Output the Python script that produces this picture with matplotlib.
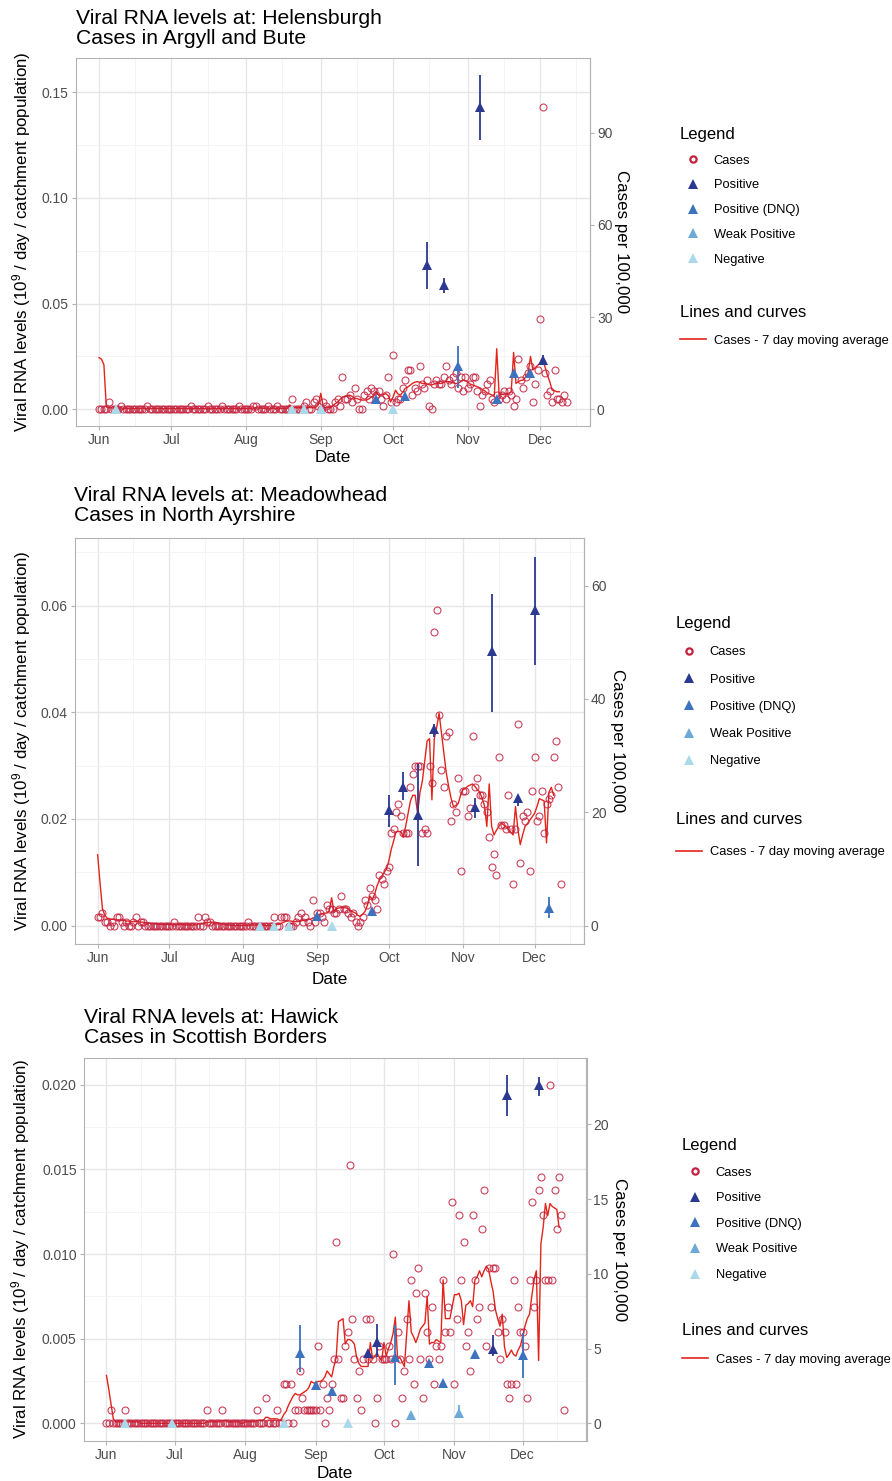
import numpy as np
import pandas as pd
import matplotlib
matplotlib.use("Agg")
import matplotlib.pyplot as plt
from matplotlib.lines import Line2D

plt.rcParams["font.family"] = ["Liberation Sans", "DejaVu Sans"]
plt.rcParams["mathtext.default"] = "regular"

W, H = 892, 1481

STATUS_ORDER = ["Positive", "Positive (DNQ)", "Weak Positive", "Negative"]
STATUS_COL = {"Positive": "#2B3990", "Positive (DNQ)": "#3C72BE",
              "Weak Positive": "#6DA9D6", "Negative": "#A9D9EA"}
CASE_COL = "#C4213E"
AVG_COL = "#E3241B"
TXT = "#4D4D4D"
EDGE = "#B3B3B3"

# ---------------- Helensburgh / Argyll and Bute ----------------
hb_cases = (
    [0, 0, 0, 0, 2.3, 0, 0, 0, 0, 1.2, 0, 0, 0, 0, 0, 0, 0, 0, 0, 0, 1.2, 0, 0, 0, 0, 0, 0, 0, 0, 0]
    + [0, 0, 0, 0, 0, 0, 0, 0, 1.2, 0, 0, 0, 0, 0, 0, 1.2, 0, 0, 0, 0, 0, 1.2, 0, 0, 0, 0, 0, 0, 1.2, 0, 0]
    + [0, 0, 0, 1.2, 1.2, 0, 0, 0, 0, 1.2, 0, 0, 0, 1.2, 0, 0, 0, 0, 0, 3.5, 0, 0, 0, 0, 1.2, 2.3, 0, 0, 2.3, 3.5, 1.2]
    + [0, 2.3, 1.2, 0, 0, 0, 2.3, 3.5, 1.2, 10.5, 3.5, 3.5, 4.7, 2.3, 7.0, 3.5, 0, 0, 4.7, 5.9, 3.5, 7.0, 5.9, 4.7, 5.9, 3.5, 1.2, 4.7, 10.5, 2.3]
    + [17.6, 2.3, 3.5, 3.5, 7.0, 9.4, 12.9, 12.9, 4.7, 7.0, 5.9, 14.0, 8.2, 7.0, 9.4, 1.2, 0, 8.2, 9.4, 8.2, 8.2, 10.5, 14.0, 9.4, 8.2, 10.5, 11.7, 7.0, 10.5, 5.9, 10.5]
    + [7.0, 8.2, 10.5, 10.5, 5.9, 1.2, 4.7, 5.9, 8.2, 9.4, 3.5, 2.3, 4.7, 3.5, 4.7, 5.9, 3.5, 5.9, 4.7, 1.2, 3.5, 16.4, 9.4, 7.0, 10.5, 11.7, 14.0, 2.3, 8.2, 12.9]
    + [29.3, 98.5, 11.7, 4.7, 5.9, 2.3, 12.9, 3.5, 3.5, 2.3, 4.7, 2.3]
)
hb_avg = (
    [16.8, 16.3, 14.5, 0.8, 0.5, 0.5, 0.4, 0.4, 0.4, 0.5, 0.3, 0.3, 0.2, 0.2, 0.2, 0.2, 0.2, 0.2, 0.3, 0.3, 0.3, 0.3, 0.2, 0.2, 0.2, 0.2, 0.2, 0.2, 0.2, 0.2]
    + [0.2, 0.2, 0.2, 0.2, 0.2, 0.2, 0.2, 0.2, 0.3, 0.3, 0.3, 0.2, 0.2, 0.2, 0.2, 0.3, 0.3, 0.2, 0.2, 0.2, 0.2, 0.3, 0.3, 0.3, 0.2, 0.2, 0.2, 0.2, 0.3, 0.3, 0.2]
    + [0.2, 0.2, 0.3, 0.4, 0.5, 0.4, 0.4, 0.3, 0.3, 0.4, 0.3, 0.3, 0.3, 0.4, 0.3, 0.3, 0.2, 0.2, 1.4, 1.0, 0.6, 0.5, 0.5, 0.5, 0.5, 0.6, 0.6, 0.5, 0.5, 0.7, 1.5]
    + [5.2, 1.0, 0.5, 0.5, 0.6, 1.2, 1.8, 2.4, 3.2, 4.0, 4.2, 4.5, 4.6, 4.2, 3.5, 3.5, 3.2, 3.0, 3.0, 3.0, 3.4, 4.0, 4.4, 5.7, 4.6, 4.6, 4.8, 5.1, 4.4, 2.4]
    + [4.0, 6.2, 5.0, 4.6, 5.5, 6.8, 7.2, 7.8, 8.4, 8.8, 9.0, 8.8, 8.4, 8.4, 8.2, 8.0, 7.9, 8.2, 8.6, 8.4, 8.4, 8.8, 9.0, 9.0, 8.8, 8.6, 8.4, 8.4, 9.0, 9.5, 9.3]
    + [8.8, 8.2, 7.9, 7.6, 7.3, 7.0, 6.4, 6.0, 5.3, 5.0, 4.6, 4.6, 19.7, 4.6, 4.8, 5.0, 5.0, 5.1, 5.7, 18.5, 8.4, 9.0, 9.4, 9.5, 10.5, 11.7, 17.2, 12.8, 13.5, 14.3]
    + [15.0, 16.5, 13.9, 11.2, 9.0, 6.2, 6.0, 5.7, 5.7]
)
hb_dates = ["2020-06-08", "2020-08-20", "2020-08-25", "2020-09-01", "2020-09-24",
            "2020-10-01", "2020-10-06", "2020-10-15", "2020-10-22", "2020-10-28",
            "2020-11-06", "2020-11-13", "2020-11-20", "2020-11-27", "2020-12-02"]
hb_status = ["Negative", "Negative", "Negative", "Negative", "Positive (DNQ)",
             "Negative", "Positive (DNQ)", "Positive", "Positive", "Positive (DNQ)",
             "Positive", "Positive (DNQ)", "Positive (DNQ)", "Positive (DNQ)", "Positive"]
hb_level = [0, 0, 0, 0, 0.0050, 0, 0.0062, 0.0685, 0.0587, 0.0205, 0.1432, 0.0048, 0.0172, 0.0172, 0.0235]
hb_lo = [0, 0, 0, 0, 0.0050, 0, 0.0062, 0.0571, 0.0548, 0.0101, 0.1275, 0.0048, 0.0172, 0.0172, 0.0215]
hb_hi = [0, 0, 0, 0, 0.0050, 0, 0.0062, 0.0791, 0.0619, 0.0299, 0.1583, 0.0048, 0.0172, 0.0172, 0.0255]

# ---------------- Meadowhead / North Ayrshire ----------------
mh_cases = (
    [1.5, 1.5, 2.2, 0.7, 0.7, 0.0, 0.7, 0.0, 1.5, 1.5, 0.7, 0.0, 0.7, 0.0, 0.0, 0.7, 1.5, 0.0, 0.7, 0.7, 0.0, 0.0, 0.0, 0.0, 0.0, 0.0, 0.0, 0.0, 0.0, 0.0]
    + [0.0, 0.0, 0.7, 0.0, 0.0, 0.0, 0.0, 0.0, 0.0, 0.0, 0.0, 0.0, 1.5, 0.0, 0.0, 1.5, 0.7, 0.7, 0.0, 0.0, 0.0, 0.0, 0.0, 0.0, 0.0, 0.0, 0.0, 0.0, 0.0, 0.0, 0.0]
    + [0.0, 0.0, 0.7, 0.0, 0.0, 0.0, 0.0, 0.0, 0.0, 0.0, 0.0, 0.0, 0.0, 1.5, 0.0, 0.0, 1.5, 1.5, 1.5, 0.0, 0.0, 0.0, 0.7, 1.5, 2.2, 0.7, 1.5, 0.7, 0.0, 4.5, 0.7]
    + [2.2, 2.2, 1.5, 0.7, 3.7, 3.0, 3.0, 2.2, 2.2, 3.0, 5.2, 3.0, 3.0, 2.2, 1.5, 2.2, 0.7, 0.0, 0.7, 1.5, 4.5, 3.7, 6.7, 5.2, 4.5, 3.0, 8.9, 8.2, 7.4, 9.6]
    + [10.4, 16.3, 17.1, 20.0, 21.5, 19.3, 16.3, 16.3, 16.3, 24.5, 26.7, 28.2, 28.2, 28.2, 16.3, 17.1, 16.3, 28.2, 25.2, 51.9, 55.7, 37.1, 27.4, 24.5, 33.4, 34.1, 18.5, 21.5, 20.0, 26.0, 9.6]
    + [23.7, 23.7, 19.3, 20.8, 33.4, 24.5, 26.0, 23.0, 23.0, 21.5, 20.0, 15.6, 10.4, 12.6, 8.9, 29.7, 17.8, 17.8, 17.1, 23.0, 17.1, 7.4, 17.1, 35.6, 11.1, 19.3, 18.5, 20.0, 9.6, 23.7]
    + [29.7, 18.5, 19.3, 23.7, 16.3, 21.5, 22.3, 23.0, 29.7, 32.6, 24.5, 7.4]
)
mh_avg = (
    [12.5, 7.5, 3.0, 1.8, 1.3, 1.2, 1.1, 1.1, 1.0, 1.0, 0.9, 0.9, 0.8, 0.8, 0.7, 0.7, 0.7, 0.7, 0.6, 0.6, 0.5, 0.5, 0.4, 0.4, 0.3, 0.3, 0.3, 0.2, 0.2, 0.2]
    + [0.2, 0.2, 0.2, 0.2, 0.2, 0.2, 0.2, 0.1, 0.1, 0.1, 0.1, 0.1, 0.3, 0.3, 0.3, 0.5, 0.5, 0.6, 0.6, 0.6, 0.5, 0.4, 0.3, 0.2, 0.1, 0.1, 0.0, 0.0, 0.0, 0.0, 0.0]
    + [0.0, 0.0, 0.1, 0.1, 0.1, 0.1, 0.1, 0.1, 0.1, 0.0, 0.0, 0.0, 0.0, 0.2, 0.2, 0.2, 0.4, 0.6, 0.8, 0.8, 0.8, 0.7, 0.7, 0.7, 0.8, 0.9, 0.9, 1.1, 1.1, 1.3, 1.5]
    + [1.8, 2.0, 2.1, 2.2, 2.2, 2.6, 4.9, 2.4, 3.0, 3.1, 3.2, 3.2, 3.1, 3.0, 2.6, 2.4, 2.2, 1.8, 1.6, 2.0, 2.5, 3.6, 5.2, 4.6, 5.5, 7.0, 8.0, 8.7, 9.4, 10.0]
    + [11.5, 13.5, 15.0, 16.6, 16.6, 16.6, 15.6, 17.5, 19.8, 22.0, 23.0, 23.0, 19.8, 23.5, 25.5, 29.0, 32.6, 33.0, 22.2, 33.0, 35.0, 37.5, 34.0, 30.5, 27.0, 24.6, 22.5, 21.0, 21.2, 21.5, 23.0]
    + [24.0, 24.2, 24.6, 24.8, 25.0, 24.6, 24.0, 23.6, 22.5, 21.2, 17.5, 25.0, 17.5, 16.0, 16.8, 17.5, 18.1, 17.8, 17.4, 17.0, 16.5, 16.0, 21.0, 17.0, 14.3, 16.0, 17.5, 18.0, 18.6, 19.2]
    + [19.8, 21.0, 22.4, 22.2, 22.0, 14.6, 23.5, 24.4, 23.0]
)
mh_dates = ["2020-08-08", "2020-08-14", "2020-08-20", "2020-09-01", "2020-09-07",
            "2020-09-24", "2020-10-01", "2020-10-07", "2020-10-13", "2020-10-20",
            "2020-11-06", "2020-11-13", "2020-11-24", "2020-12-01", "2020-12-07"]
mh_status = ["Negative", "Negative", "Negative", "Positive (DNQ)", "Negative",
             "Positive (DNQ)", "Positive", "Positive", "Positive", "Positive",
             "Positive", "Positive", "Positive", "Positive", "Positive (DNQ)"]
mh_level = [0, 0, 0, 0.0017, 0, 0.0028, 0.0216, 0.0260, 0.0207, 0.0368, 0.0223, 0.0515, 0.0240, 0.0592, 0.0033]
mh_lo = [0, 0, 0, 0.0017, 0, 0.0028, 0.0185, 0.0236, 0.0111, 0.0354, 0.0201, 0.0401, 0.0225, 0.0488, 0.0014]
mh_hi = [0, 0, 0, 0.0017, 0, 0.0028, 0.0245, 0.0288, 0.0304, 0.0379, 0.0239, 0.0622, 0.0245, 0.0692, 0.0054]

# ---------------- Hawick / Scottish Borders ----------------
hw_cases = (
    [0, 0, 0.9, 0, 0, 0, 0, 0, 0.9, 0, 0, 0, 0, 0, 0, 0, 0, 0, 0, 0, 0, 0, 0, 0, 0, 0, 0, 0, 0, 0]
    + [0, 0, 0, 0, 0, 0, 0, 0, 0, 0, 0, 0, 0, 0, 0.9, 0, 0, 0, 0, 0, 0, 0.9, 0, 0, 0, 0, 0, 0, 0, 0, 0]
    + [0, 0, 0, 0, 0, 0.9, 0, 0, 0, 1.7, 0, 0, 0, 0, 0.9, 0, 0, 2.6, 2.6, 0, 2.6, 0, 0.9, 0.9, 3.5, 1.7, 0.9, 0.9, 0.9, 0.9, 0.9]
    + [0.9, 5.2, 0.9, 2.6, 0, 1.7, 0.9, 2.6, 4.3, 12.1, 4.3, 1.7, 1.7, 5.2, 6.1, 17.3, 7.0, 4.3, 1.7, 3.5, 0.9, 4.3, 7.0, 4.3, 7.0, 4.3, 0, 1.7, 5.2, 4.3]
    + [4.3, 4.3, 5.2, 4.3, 11.3, 0, 6.1, 4.3, 1.7, 3.5, 7.0, 4.3, 9.6, 2.6, 8.7, 10.4, 4.3, 1.7, 8.7, 6.1, 4.3, 7.8, 2.6, 5.2, 4.3, 5.2, 9.6, 6.1, 7.8, 6.1, 14.8]
    + [2.6, 7.0, 13.9, 9.6, 12.1, 5.2, 6.1, 3.5, 13.9, 9.6, 7.0, 7.8, 13.0, 15.6, 5.2, 10.4, 7.8, 10.4, 10.4, 6.1, 4.3, 7.0, 6.1, 2.6, 1.7, 2.6, 9.6, 2.6, 7.8, 6.1]
    + [6.1, 5.2, 1.7, 9.6, 14.8, 7.8, 9.6, 15.6, 16.5, 13.9, 9.6, 9.6, 22.6, 9.6, 15.6, 13.0, 16.5, 13.9, 0.9]
)
hw_avg = (
    [3.2, 2.3, 1.3, 0.3, 0.1, 0.1, 0.1, 0.1, 0.1, 0.1, 0.1, 0.1, 0.1, 0.1, 0.1, 0.0, 0.0, 0.0, 0.0, 0.0, 0.0, 0.0, 0.0, 0.0, 0.0, 0.0, 0.0, 0.0, 0.0, 0.0]
    + [0.0, 0.0, 0.0, 0.0, 0.0, 0.0, 0.0, 0.0, 0.0, 0.0, 0.0, 0.0, 0.0, 0.0, 0.1, 0.1, 0.1, 0.1, 0.1, 0.1, 0.1, 0.2, 0.2, 0.1, 0.1, 0.1, 0.1, 0.1, 0.1, 0.0, 0.0]
    + [0.1, 0.1, 0.1, 0.1, 0.1, 0.2, 0.2, 0.2, 0.2, 0.4, 0.4, 0.3, 0.3, 0.3, 0.3, 0.2, 0.3, 0.6, 0.8, 1.2, 1.5, 1.8, 2.0, 1.9, 1.9, 2.0, 2.1, 2.2, 2.4, 2.8, 2.7]
    + [2.7, 2.8, 2.8, 2.9, 3.1, 3.5, 3.3, 3.1, 3.8, 4.4, 6.8, 6.9, 7.0, 5.3, 5.6, 5.6, 5.5, 5.3, 4.4, 4.0, 3.8, 3.8, 3.8, 3.8, 5.4, 4.3, 4.5, 4.7, 4.4, 4.2]
    + [5.4, 4.5, 5.0, 5.4, 6.0, 7.1, 4.3, 4.4, 4.1, 3.8, 6.0, 8.2, 6.1, 5.8, 5.4, 5.8, 6.3, 6.5, 6.7, 8.5, 5.3, 5.4, 5.4, 5.6, 5.5, 5.4, 9.6, 7.0, 7.0, 7.0, 7.8]
    + [8.6, 8.6, 8.7, 8.2, 6.6, 7.9, 8.0, 8.2, 7.8, 9.6, 9.8, 10.2, 9.8, 10.2, 10.5, 10.3, 9.5, 8.8, 7.6, 7.0, 6.5, 7.3, 5.1, 4.4, 4.6, 4.9, 4.6, 4.5, 4.9, 5.2]
    + [5.8, 6.5, 7.0, 7.3, 8.5, 9.6, 10.2, 4.2, 12.0, 13.1, 14.7, 13.9, 14.7, 14.5, 14.4, 14.3, 13.1]
)
hw_dates = ["2020-06-09", "2020-06-30", "2020-08-18", "2020-08-25", "2020-09-01",
            "2020-09-08", "2020-09-15", "2020-09-24", "2020-09-28", "2020-10-06",
            "2020-10-13", "2020-10-21", "2020-10-27", "2020-11-03", "2020-11-10",
            "2020-11-18", "2020-11-24", "2020-12-01", "2020-12-08"]
hw_status = ["Negative", "Negative", "Negative", "Positive (DNQ)", "Positive (DNQ)",
             "Positive (DNQ)", "Negative", "Positive", "Positive", "Positive (DNQ)",
             "Weak Positive", "Positive (DNQ)", "Positive (DNQ)", "Weak Positive", "Positive (DNQ)",
             "Positive", "Positive", "Positive (DNQ)", "Positive"]
hw_level = [0, 0, 0, 0.00417, 0.00226, 0.00193, 0, 0.00413, 0.00482, 0.0039,
            0.00049, 0.00354, 0.0024, 0.00061, 0.0041, 0.00437, 0.01938, 0.00403, 0.01997]
hw_lo = [0, 0, 0, 0.00305, 0.00226, 0.00193, 0, 0.00413, 0.00393, 0.00226,
         0.00049, 0.00354, 0.0024, 0.0003, 0.0041, 0.0040, 0.01814, 0.00266, 0.01932]
hw_hi = [0, 0, 0, 0.0058, 0.00226, 0.00193, 0, 0.00413, 0.00586, 0.0058,
         0.00049, 0.00354, 0.0024, 0.0011, 0.0041, 0.0052, 0.02056, 0.00531, 0.02046]

months = pd.to_datetime(["2020-06-01", "2020-07-01", "2020-08-01", "2020-09-01",
                         "2020-10-01", "2020-11-01", "2020-12-01"])
mid_months = pd.to_datetime(["2020-05-16", "2020-06-16", "2020-07-16", "2020-08-16",
                             "2020-09-16", "2020-10-16", "2020-11-16", "2020-12-16"])

fig = plt.figure(figsize=(W / 100, H / 100), dpi=100)


def fx(px):
    return px / W


def fy(py):
    return 1 - py / H


def draw_panel(box, site, area, cases, avg, s_dates, status, level, lo, hi,
               yticks, yfmt, cticks, lay):
    left, top, right, bottom = box
    ax = fig.add_axes([fx(left), fy(bottom), (right - left) / W, (bottom - top) / H])

    days = pd.date_range("2020-06-01", periods=len(cases))
    avg_days = pd.date_range("2020-06-01", periods=len(avg))
    s_dates = pd.to_datetime(s_dates)
    cases = np.array(cases, dtype=float)
    avg = np.array(avg, dtype=float)
    level = np.array(level)
    lo = np.array(lo)
    hi = np.array(hi)

    # cases share the left scale through a secondary axis factor
    k = cases.max() / level.max()

    ymin, ymax = min(0, lo.min()), hi.max()
    yr = ymax - ymin
    d0, d1 = days[0], max(days[-1], s_dates.max())
    span = d1 - d0

    ax.plot(avg_days, avg / k, color=AVG_COL, lw=1.0, zorder=3)
    ax.plot(days, cases / k, ls="none", marker="o", ms=5, mfc="none",
            mec=CASE_COL, mew=0.8, alpha=0.85, zorder=4)
    cols = [STATUS_COL[s] for s in status]
    ax.vlines(s_dates, lo, hi, colors=cols, lw=1.3, zorder=5)
    for st in STATUS_ORDER:
        m = np.array([s == st for s in status])
        if m.any():
            ax.plot(s_dates[m], level[m], ls="none", marker="^", ms=7.5,
                    color=STATUS_COL[st], mew=0, zorder=6)

    # axes styling
    ax.set_xticks(months)
    ax.set_xticklabels([d.strftime("%b") for d in months])
    ax.set_xticks(mid_months, minor=True)
    step = yticks[1] - yticks[0]
    ax.set_yticks(yticks)
    ax.set_yticklabels([yfmt % v for v in yticks])
    ax.set_yticks(np.arange(yticks[0] - step / 2, yticks[-1] + step, step), minor=True)
    ax.set_xlim(d0 - span * 0.05, d1 + span * 0.05)
    ax.set_ylim(ymin - 0.05 * yr, ymax + 0.05 * yr)
    ax.grid(True, which="major", color="#E6E6E6", lw=1.0, zorder=0)
    ax.grid(True, which="minor", color="#F2F2F2", lw=0.6, zorder=0)
    ax.set_axisbelow(True)
    for sp in ax.spines.values():
        sp.set_color(EDGE)
        sp.set_linewidth(0.8)
    ax.tick_params(which="major", length=3, width=0.8, color=EDGE,
                   labelcolor=TXT, labelsize=10, pad=2)
    ax.tick_params(which="minor", length=0)

    sec = ax.secondary_yaxis("right", functions=(lambda v: v * k, lambda c: c / k))
    sec.set_yticks(cticks)
    sec.set_yticklabels([str(c) for c in cticks])
    sec.tick_params(length=3, width=0.8, color=EDGE, labelcolor=TXT, labelsize=10, pad=2)
    sec.spines["right"].set_color(EDGE)
    sec.spines["right"].set_linewidth(0.8)

    ax.set_xlabel("Date", fontsize=12.3, va="center")
    ax.xaxis.set_label_coords(fx(lay["date"][0]), fy(lay["date"][1]), transform=fig.transFigure)
    ax.set_ylabel("Viral RNA levels (10$^{9}$ / day / catchment population)",
                  fontsize=12.2, va="center")
    ax.yaxis.set_label_coords(fx(lay["ylab"][0]), fy(lay["ylab"][1]), transform=fig.transFigure)
    sec.set_ylabel("Cases per 100,000", fontsize=12.2, rotation=-90, va="center")
    sec.yaxis.set_label_coords(fx(lay["clab"][0]), fy(lay["clab"][1]), transform=fig.transFigure)

    fig.text(fx(left), fy(lay["title"]), "Viral RNA levels at: " + site + "\nCases in " + area,
             fontsize=15.2, va="top", ha="left", linespacing=1.05, color="black")

    # legends
    h_pts = [Line2D([], [], ls="none", marker="o", ms=4.5, mfc="none", mec=CASE_COL, mew=1.6)]
    for st in STATUS_ORDER:
        h_pts.append(Line2D([], [], ls="none", marker="^", ms=6.5, color=STATUS_COL[st], mew=0))
    leg1 = ax.legend(h_pts, ["Cases"] + STATUS_ORDER, title="Legend", loc="upper left",
                     bbox_to_anchor=(fx(lay["leg"][0]), fy(lay["leg"][1])),
                     bbox_transform=fig.transFigure, frameon=False, fontsize=9.3,
                     title_fontsize=12, alignment="left", borderpad=0, borderaxespad=0,
                     handlelength=2.0, handletextpad=0.6, labelspacing=lay["sp"])
    ax.add_artist(leg1)
    h_line = [Line2D([], [], color=AVG_COL, lw=1.2)]
    ax.legend(h_line, ["Cases - 7 day moving average"], title="Lines and curves",
              loc="upper left", bbox_to_anchor=(fx(lay["leg2"][0]), fy(lay["leg2"][1])),
              bbox_transform=fig.transFigure, frameon=False, fontsize=9.3,
              title_fontsize=12, alignment="left", borderpad=0, borderaxespad=0,
              handlelength=2.0, handletextpad=0.6, labelspacing=lay["sp2"])
    return ax


draw_panel((75.7, 58, 590, 426), "Helensburgh", "Argyll and Bute",
           hb_cases, hb_avg, hb_dates, hb_status, hb_level, hb_lo, hb_hi,
           [0.0, 0.05, 0.10, 0.15], "%.2f", [0, 30, 60, 90],
           dict(title=9, date=(333, 458), ylab=(22, 242), clab=(622, 242),
                leg=(680, 127), leg2=(680, 305), sp=0.98, sp2=1.12))
draw_panel((74.5, 538.3, 584, 944), "Meadowhead", "North Ayrshire",
           mh_cases, mh_avg, mh_dates, mh_status, mh_level, mh_lo, mh_hi,
           [0.0, 0.02, 0.04, 0.06], "%.2f", [0, 20, 40, 60],
           dict(title=486, date=(330, 979), ylab=(22, 741), clab=(617, 741),
                leg=(676, 616), leg2=(676, 812), sp=1.18, sp2=1.5))
draw_panel((83.6, 1058, 586.5, 1440.7), "Hawick", "Scottish Borders",
           hw_cases, hw_avg, hw_dates, hw_status, hw_level, hw_lo, hw_hi,
           [0.0, 0.005, 0.010, 0.015, 0.020], "%.3f", [0, 5, 10, 15, 20],
           dict(title=1008, date=(335, 1474), ylab=(21, 1249), clab=(620, 1250),
                leg=(682, 1138), leg2=(682, 1323), sp=1.05, sp2=1.2))

fig.savefig("out.png", dpi=100)
